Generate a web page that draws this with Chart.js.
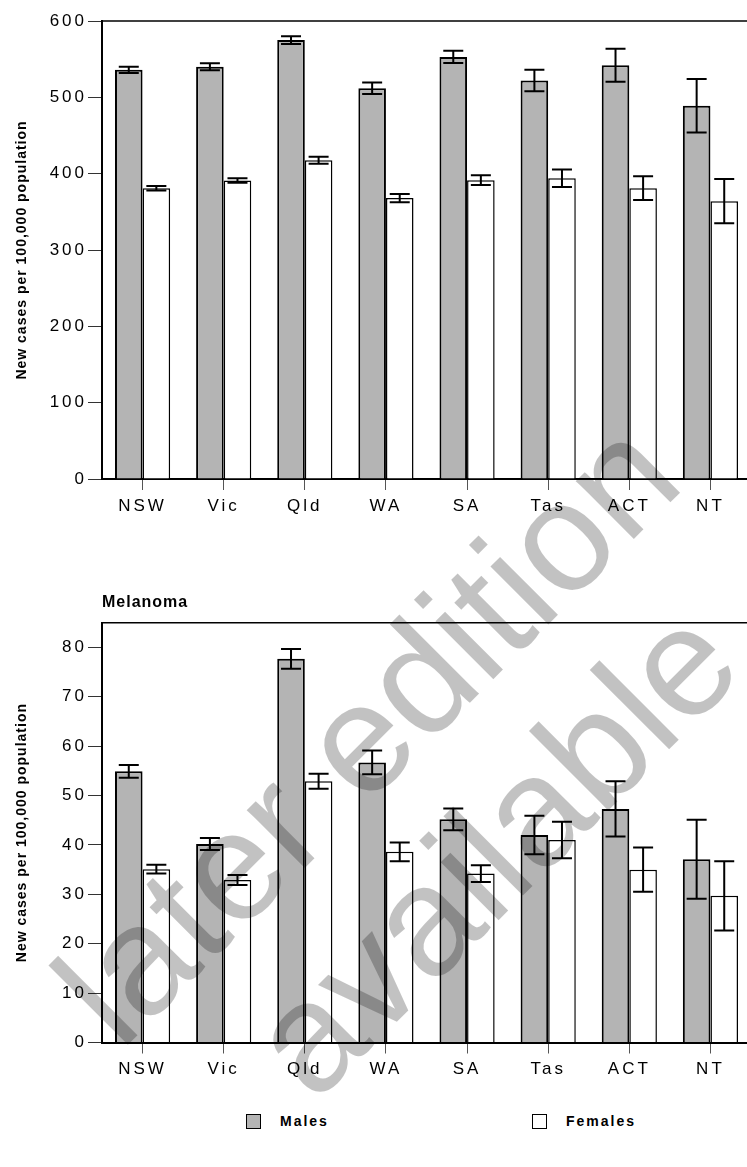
<!DOCTYPE html>
<html><head><meta charset="utf-8">
<script src="https://cdn.jsdelivr.net/npm/chart.js@4.4.1/dist/chart.umd.min.js"></script>
<style>
html,body{margin:0;padding:0;background:#fff;}
body{width:747px;height:1167px;overflow:hidden;position:relative;font-family:"Liberation Sans",Arial,sans-serif;}
#c1{position:absolute;left:0;top:0;}
#c2{position:absolute;left:0;top:580px;}
.wm{position:absolute;white-space:nowrap;font-size:155px;line-height:1;color:rgba(0,0,0,0.24);transform:translate(-50%,-50%) rotate(-45deg);pointer-events:none;font-family:"Liberation Sans",Arial,sans-serif;z-index:5;}
.lg{position:absolute;display:flex;align-items:center;font-weight:bold;font-size:14px;letter-spacing:2px;color:#000;}
.lg span.box{display:inline-block;width:13px;height:13px;border:1.5px solid #000;margin-right:19px;}
</style></head>
<body>
<canvas id="c1" width="751" height="530" style="width:751px;height:530px"></canvas>
<canvas id="c2" width="751" height="514" style="width:751px;height:514px"></canvas>
<div id="legend"></div>
<div class="wm" style="left:366px;top:731px">later edition</div>
<div class="wm" style="left:493px;top:850px">available</div>
<script>
const categories = ['NSW','Vic','Qld','WA','SA','Tas','ACT','NT'];
const allMales = [536, 540, 575, 512, 553, 522, 542, 489];
const allMalesErr = [4, 4.5, 5, 7.5, 8, 14, 21.5, 35];
const allFemales = [381, 391, 417.5, 368, 391.5, 394, 381, 364];
const allFemalesErr = [3, 3, 4.5, 5.5, 6.5, 11.5, 15.5, 29];
const melMales = [54.9, 40.2, 77.7, 56.7, 45.2, 42.0, 47.3, 37.1];
const melMalesErr = [1.3, 1.2, 2.0, 2.4, 2.2, 3.9, 5.6, 8.0];
const melFemales = [35.1, 32.9, 52.9, 38.6, 34.2, 41.0, 35.0, 29.7];
const melFemalesErr = [0.9, 1.0, 1.5, 1.9, 1.7, 3.7, 4.5, 7.0];
const allTicks = [0, 100, 200, 300, 400, 500, 600];
const melTicks = [0, 10, 20, 30, 40, 50, 60, 70, 80];
const seriesNames = ['Males', 'Females'];
const seriesColors = ['#b4b4b4', '#ffffff'];
const yTitle = 'New cases per 100,000 population';
const melTitle = 'Melanoma';

const FONT = '"Liberation Sans", Arial, sans-serif';

const spacingPlugin = {
  id: 'spacing',
  beforeDraw(c) { c.ctx.letterSpacing = '1px'; },
  afterDatasetsDraw(c) { c.ctx.letterSpacing = '3px'; },
  afterDraw(c) { c.ctx.letterSpacing = '0px'; }
};
const framePlugin = {
  id: 'frame',
  beforeDatasetsDraw(c) {
    const a = c.chartArea, ctx = c.ctx;
    ctx.save();
    ctx.strokeStyle = '#000';
    ctx.lineWidth = 1.5;
    ctx.beginPath();
    ctx.moveTo(a.left, a.top);
    ctx.lineTo(a.right + 5, a.top);
    ctx.stroke();
    ctx.restore();
  }
};
const errorPlugin = {
  id: 'errbars',
  afterDatasetsDraw(c) {
    const ctx = c.ctx, ys = c.scales.y;
    ctx.save();
    ctx.strokeStyle = '#000';
    ctx.lineWidth = 2;
    c.data.datasets.forEach((ds, d) => {
      const meta = c.getDatasetMeta(d);
      meta.data.forEach((bar, i) => {
        const v = ds.data[i], e = ds.errors[i];
        const x = bar.x;
        const yt = ys.getPixelForValue(v + e), yb = ys.getPixelForValue(v - e);
        const hw = 10;
        ctx.beginPath();
        ctx.moveTo(x, yt); ctx.lineTo(x, yb);
        ctx.moveTo(x - hw, yt); ctx.lineTo(x + hw, yt);
        ctx.moveTo(x - hw, yb); ctx.lineTo(x + hw, yb);
        ctx.stroke();
      });
    });
    ctx.restore();
  }
};

function makeDatasets(m, me, f, fe) {
  return [
    {label: seriesNames[0], data: m, errors: me, backgroundColor: seriesColors[0], borderColor: '#000', borderWidth: 2, categoryPercentage: 0.68, barPercentage: 1},
    {label: seriesNames[1], data: f, errors: fe, backgroundColor: seriesColors[1], borderColor: '#000', borderWidth: 1.5, categoryPercentage: 0.68, barPercentage: 1}
  ];
}

function makeOptions(tickVals, yMax, xH, title, padTop) {
  const step = tickVals[1] - tickVals[0];
  return {
    responsive: false,
    animation: false,
    devicePixelRatio: 1,
    layout: {padding: {top: padTop, left: 0, right: 0, bottom: 0}},
    plugins: {
      legend: {display: false},
      tooltip: {enabled: false},
      title: title ? {display: true, text: title, align: 'start', fullSize: false, color: '#000',
        font: {family: FONT, size: 16, weight: 'bold'}, padding: {top: 13, bottom: 10.5}} : {display: false}
    },
    scales: {
      x: {
        afterFit(s) { s.height = xH; },
        ticks: {padding: 6, color: '#000', font: {family: FONT, size: 17}, z: 1, autoSkip: false, maxRotation: 0},
        grid: {drawOnChartArea: false, drawTicks: true, tickLength: 11, color: '#555', offset: false},
        border: {display: true, color: '#000', width: 2}
      },
      y: {
        min: 0, max: yMax,
        afterFit(s) { s.width = 102; },
        afterBuildTicks(s) { s.ticks = tickVals.map(v => ({value: v})); },
        ticks: {stepSize: step, padding: 1, color: '#000', font: {family: FONT, size: 17}, z: 1},
        grid: {drawOnChartArea: false, drawTicks: true, tickLength: 14, color: '#333'},
        border: {display: true, color: '#000', width: 2},
        title: {display: true, text: yTitle, color: '#000', font: {family: FONT, size: 14, weight: 'bold'}, padding: {top: 14, bottom: 0}}
      }
    }
  };
}

const plugins = [spacingPlugin, framePlugin, errorPlugin];

const chart1 = new Chart(document.getElementById('c1'), {
  type: 'bar',
  data: {labels: categories, datasets: makeDatasets(allMales, allMalesErr, allFemales, allFemalesErr)},
  options: makeOptions(allTicks, 600, 51, null, 21),
  plugins
});
const chart2 = new Chart(document.getElementById('c2'), {
  type: 'bar',
  data: {labels: categories, datasets: makeDatasets(melMales, melMalesErr, melFemales, melFemalesErr)},
  options: makeOptions(melTicks, 85, 51.5, melTitle, 0),
  plugins
});

// HTML legend built from the chart's datasets
const legendX = [246, 532];
const lg = document.getElementById('legend');
chart2.data.datasets.forEach((ds, i) => {
  const item = document.createElement('div');
  item.className = 'lg';
  item.style.left = legendX[i] + 'px';
  item.style.top = '1113px';
  const box = document.createElement('span');
  box.className = 'box';
  box.style.background = ds.backgroundColor;
  item.appendChild(box);
  const t = document.createElement('span');
  t.textContent = ds.label;
  item.appendChild(t);
  lg.appendChild(item);
});
</script>
</body></html>
